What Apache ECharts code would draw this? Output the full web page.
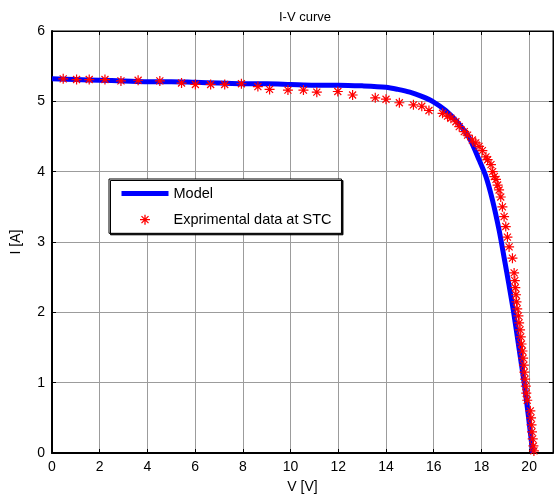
<!DOCTYPE html>
<html>
<head>
<meta charset="utf-8">
<script src="https://cdn.jsdelivr.net/npm/echarts@6/dist/echarts.min.js"></script>
<style>
html,body{margin:0;padding:0;background:#fff;}
#chart{width:555px;height:499px;}
</style>
</head>
<body>
<div id="chart"></div>
<script>
// Model curve (V, I)
const modelV = [0,1,2,3,4,5,6,7,8,9,10,11,12,13,14,14.5,15,15.5,16,16.5,17,17.49,17.9,18.19,18.46,18.74,18.95,19.16,19.35,19.57,19.79,19.97,20.15];
const modelI = [5.32,5.31,5.30,5.29,5.28,5.28,5.27,5.26,5.25,5.25,5.24,5.23,5.23,5.22,5.20,5.17,5.13,5.07,4.99,4.87,4.70,4.48,4.17,3.93,3.60,3.17,2.78,2.38,2.00,1.50,1.00,0.52,0.00];

// Experimental data at STC (V, I)
const expV = [0.47,1.03,1.56,2.22,2.89,3.61,4.52,5.43,6.01,6.65,7.24,7.94,8.63,9.12,9.89,10.54,11.1,11.98,12.6,13.55,14.0,14.56,15.15,15.5,15.8,
  16.37,16.58,16.72,16.93,17.07,17.28,17.42,17.62,17.76,17.9,18.04,18.19,18.26,18.40,18.47,18.54,18.61,18.68,18.74,18.81,18.88,18.95,19.02,19.09,19.16,19.30,
  19.37,19.40,19.42,19.45,19.47,19.50,19.55,19.58,19.62,19.65,19.68,19.72,19.75,19.78,19.80,19.83,19.86,19.88,19.92,20.05,20.08,20.10,20.12,20.15,20.18,20.20];
const expI = [5.32,5.31,5.31,5.31,5.29,5.30,5.29,5.26,5.24,5.24,5.24,5.25,5.21,5.17,5.16,5.16,5.13,5.14,5.09,5.05,5.03,4.98,4.95,4.93,4.87,
  4.83,4.79,4.76,4.71,4.64,4.57,4.52,4.45,4.41,4.36,4.30,4.21,4.17,4.10,4.00,3.93,3.89,3.81,3.74,3.64,3.50,3.36,3.22,3.07,2.93,2.77,
  2.56,2.45,2.35,2.25,2.15,2.05,1.95,1.85,1.75,1.65,1.55,1.45,1.35,1.25,1.15,1.05,0.95,0.85,0.75,0.60,0.50,0.40,0.30,0.20,0.10,0.03];

const xTicks = [0,2,4,6,8,10,12,14,16,18,20];
const yTicks = [0,1,2,3,4,5,6];

const FONT = '"Liberation Sans", Arial, sans-serif';
const star = 'path://M0,-5L0,5M-5,0L5,0M-3.5,-3.5L3.5,3.5M-3.5,3.5L3.5,-3.5';
const starLegend = 'path://M-7,-7L-7,-7M7,7L7,7M0,-5L0,5M-5,0L5,0M-3.5,-3.5L3.5,3.5M-3.5,3.5L3.5,-3.5';

const chart = echarts.init(document.getElementById('chart'), null, {renderer:'canvas'});
const gridLine = {show:true, lineStyle:{color:'#9c9c9c', width:1}};
chart.setOption({
  animation:false,
  backgroundColor:'#fff',
  title:{text:'I-V curve', left:300, top:6, textAlign:'center',
    textStyle:{fontFamily:FONT, fontSize:13, fontWeight:'normal', color:'#000'}},
  grid:{left:52, right:2, top:31, bottom:46, show:true, borderColor:'#000', borderWidth:1, backgroundColor:'#fff'},
  legend:{
    orient:'vertical', left:109, top:179, padding:[7,10,6,10], itemGap:11,
    itemWidth:47, itemHeight:14,
    backgroundColor:'#fff', borderColor:'#000', borderWidth:1,
    shadowColor:'#000', shadowOffsetX:1.5, shadowOffsetY:1.5, shadowBlur:0,
    textStyle:{fontFamily:FONT, fontSize:14.5, color:'#000', padding:[0,0,0,0]},
    data:[
      {name:'Model', lineStyle:{width:5, color:'#0000ff'}, itemStyle:{opacity:0}},
      {name:'Exprimental data at STC', icon:starLegend, itemStyle:{color:'rgba(255,0,0,0)', borderColor:'#ff0000', borderWidth:1.3}}
    ]
  },
  xAxis:[{
    type:'value', min:0, max:21, interval:2,
    name:'V [V]', nameLocation:'middle', nameGap:27,
    nameTextStyle:{fontFamily:FONT, fontSize:14, color:'#000'},
    axisLine:{show:true, onZero:false, lineStyle:{color:'#000', width:2}},
    axisTick:{show:true, inside:true, length:4, lineStyle:{color:'#000'}},
    axisLabel:{show:true, margin:7, showMaxLabel:false, fontFamily:FONT, fontSize:14, color:'#000',
      formatter:function(v){return xTicks.indexOf(v)>=0 ? String(v) : '';}},
    splitLine:gridLine
  },{
    type:'value', min:0, max:21, interval:2, position:'top',
    axisLine:{show:true, onZero:false, lineStyle:{color:'#000', width:1}},
    axisTick:{show:true, inside:true, length:4, lineStyle:{color:'#000'}},
    axisLabel:{show:false}, splitLine:{show:false}
  }],
  yAxis:[{
    type:'value', min:0, max:6, interval:1,
    name:'I [A]', nameLocation:'middle', nameGap:29, nameRotate:90,
    nameTextStyle:{fontFamily:FONT, fontSize:14, color:'#000'},
    axisLine:{show:true, onZero:false, lineStyle:{color:'#000', width:2}},
    axisTick:{show:true, inside:true, length:4, lineStyle:{color:'#000'}},
    axisLabel:{show:true, margin:7, fontFamily:FONT, fontSize:14, color:'#000',
      formatter:function(v){return yTicks.indexOf(v)>=0 ? String(v) : '';}},
    splitLine:gridLine
  },{
    type:'value', min:0, max:6, interval:1, position:'right',
    axisLine:{show:true, onZero:false, lineStyle:{color:'#000', width:1}},
    axisTick:{show:true, inside:true, length:4, lineStyle:{color:'#000'}},
    axisLabel:{show:false}, splitLine:{show:false}
  }],
  series:[
    {
      name:'Model', type:'line', xAxisIndex:0, yAxisIndex:0,
      data:modelV.map((v,i)=>[v, modelI[i]]),
      showSymbol:false, symbol:'none', smooth:0.3,
      lineStyle:{color:'#0000ff', width:5},
      itemStyle:{color:'#0000ff'}, z:2
    },
    {
      name:'Exprimental data at STC', type:'scatter', xAxisIndex:0, yAxisIndex:0,
      data:expV.map((v,i)=>[v, expI[i]]),
      symbol:star, symbolSize:10,
      itemStyle:{color:'rgba(255,0,0,0)', borderColor:'#ff0000', borderWidth:1.2, opacity:1},
      z:3
    }
  ]
});
</script>
</body>
</html>
